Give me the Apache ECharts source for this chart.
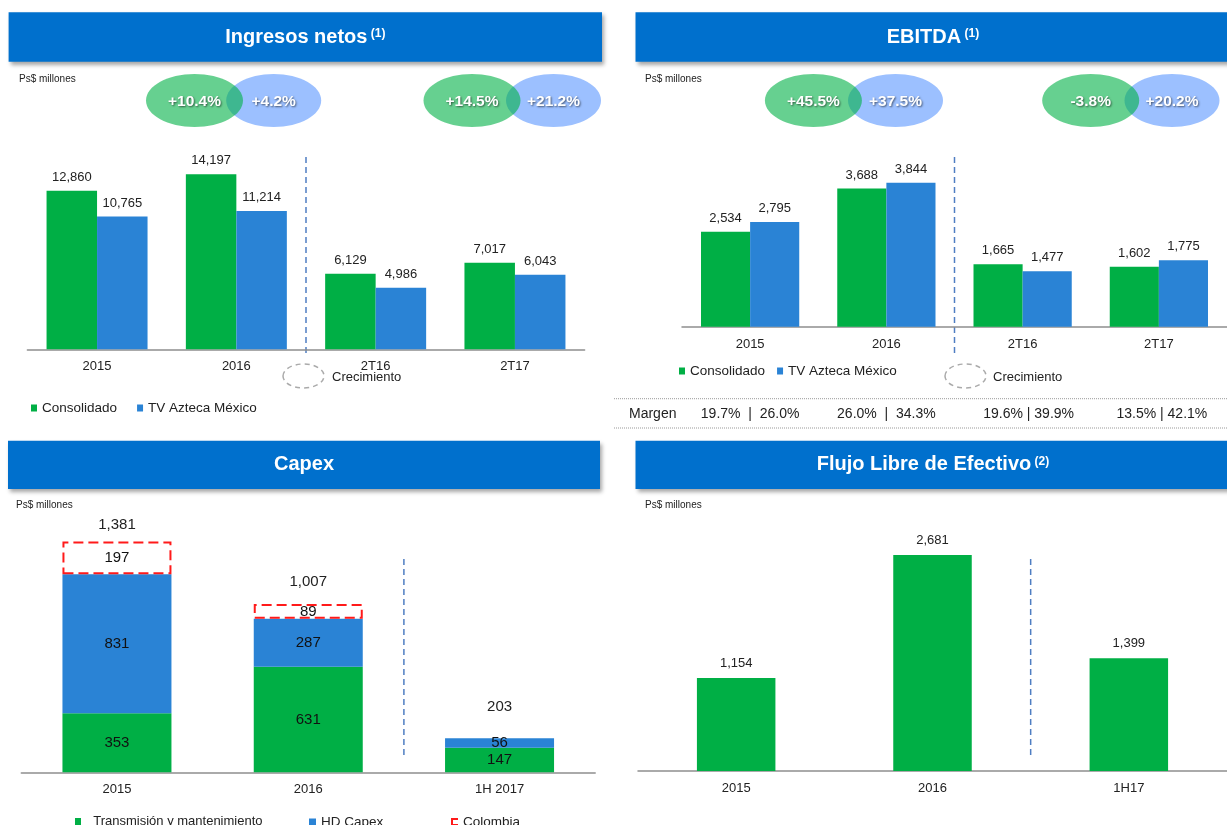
<!DOCTYPE html>
<html><head><meta charset="utf-8">
<script src="https://cdn.jsdelivr.net/npm/echarts@6/dist/echarts.min.js"></script>
<style>html,body{margin:0;padding:0;background:#fff}#c{width:1227px;height:825px}</style>
</head><body><div id="c"></div>
<script>
// ---- data ----
const catIngresos = ['2015', '2016', '2T16', '2T17'];
const ingresosConsolidado = [12860, 14197, 6129, 7017];
const ingresosTVA = [10765, 11214, 4986, 6043];
const growthIngresos = [['+10.4%', '+4.2%'], ['+14.5%', '+21.2%']];

const catEbitda = ['2015', '2016', '2T16', '2T17'];
const ebitdaConsolidado = [2534, 3688, 1665, 1602];
const ebitdaTVA = [2795, 3844, 1477, 1775];
const growthEbitda = [['+45.5%', '+37.5%'], ['-3.8%', '+20.2%']];
const margenLabels = ['19.7%  |  26.0%', '26.0%  |  34.3%', '19.6% | 39.9%', '13.5% | 42.1%'];

const catCapex = ['2015', '2016', '1H 2017'];
const capexTransmision = [353, 631, 147];
const capexHD = [831, 287, 56];
const capexColombia = [197, 89, null];
const capexTotal = [1381, 1007, 203];

const catFlujo = ['2015', '2016', '1H17'];
const flujo = [1154, 2681, 1399];

// ---- styles ----
const GREEN = '#00AF45', BLUE = '#2A83D5', HEAD = '#0070CD', TXT = '#222';
const FONT = '"Liberation Sans", Arial, sans-serif';
const fmt = v => (v == null ? '' : Number(v).toLocaleString('en-US'));

const chart = echarts.init(document.getElementById('c'), null, {renderer: 'canvas'});

function xAx(grid, data) {
  return {type: 'category', gridIndex: grid, data: data,
    axisLine: {lineStyle: {color: '#8f8f8f', width: 1.5}}, axisTick: {show: false},
    axisLabel: {color: TXT, fontSize: 13, margin: 11}};
}
function yAx(grid, max) {
  return {type: 'value', gridIndex: grid, min: 0, max: max, show: false, splitLine: {show: false}};
}
const topLabel = {show: true, position: 'top', distance: 7, color: TXT, fontSize: 13, formatter: p => fmt(p.value)};
const inLabel = {show: true, position: 'inside', color: '#111', fontSize: 15, formatter: p => fmt(p.value)};

const totalDist = [9.5, 15, 24];

const option = {
  animation: false,
  textStyle: {fontFamily: FONT},
  grid: [
    {left: 27.4, width: 557.2, top: 152, height: 197.3},
    {left: 682, width: 560, top: 139.4, height: 187.3},
    {left: 21.3, width: 573.9, top: 504.8, height: 267.5},
    {left: 638, width: 590, top: 529.3, height: 241.7}
  ],
  xAxis: [xAx(0, catIngresos), xAx(1, catEbitda), xAx(2, catCapex), xAx(3, catFlujo)],
  yAxis: [yAx(0, 16000), yAx(1, 5000), yAx(2, 1600), yAx(3, 3000)],
  legend: [
    {data: ['Consolidado', 'TV Azteca México'], left: 31, top: 401, padding: 0, icon: 'rect',
      itemWidth: 6, itemHeight: 7, itemGap: 20, selectedMode: false, textStyle: {fontSize: 13.5, color: TXT}},
    {data: ['Consolidado', 'TV Azteca México'], left: 679, top: 364, padding: 0, icon: 'rect',
      itemWidth: 6, itemHeight: 7, itemGap: 12, selectedMode: false, textStyle: {fontSize: 13.5, color: TXT}},
    {data: ['Transmisión y mantenimiento'], left: 75, top: 815, padding: 0, icon: 'rect', formatter: '  {name}',
      itemWidth: 6, itemHeight: 7, selectedMode: false, textStyle: {fontSize: 13, color: TXT}},
    {data: ['HD Capex'], left: 309, top: 815, padding: 0, icon: 'rect',
      itemWidth: 7, itemHeight: 7, selectedMode: false, textStyle: {fontSize: 13.5, color: TXT}},
    {data: [{name: 'Colombia', icon: 'path://M10,0L0,0L0,10L10,10',
      itemStyle: {color: 'rgba(0,0,0,0)', borderColor: '#FF1A1A', borderWidth: 2, borderType: 'solid'}}],
      left: 451, top: 815, padding: 0, itemWidth: 6, itemHeight: 8, selectedMode: false,
      textStyle: {fontSize: 13.5, color: TXT}}
  ],
  series: [
    {name: 'Consolidado', type: 'bar', xAxisIndex: 0, yAxisIndex: 0, data: ingresosConsolidado,
      barGap: '0%', barCategoryGap: '27.5%', itemStyle: {color: GREEN}, label: topLabel},
    {name: 'TV Azteca México', type: 'bar', xAxisIndex: 0, yAxisIndex: 0, data: ingresosTVA,
      barGap: '0%', barCategoryGap: '27.5%', itemStyle: {color: BLUE}, label: topLabel},
    {name: 'Consolidado', type: 'bar', xAxisIndex: 1, yAxisIndex: 1, data: ebitdaConsolidado,
      barGap: '0%', barCategoryGap: '27.9%', itemStyle: {color: GREEN}, label: topLabel},
    {name: 'TV Azteca México', type: 'bar', xAxisIndex: 1, yAxisIndex: 1, data: ebitdaTVA,
      barGap: '0%', barCategoryGap: '27.9%', itemStyle: {color: BLUE}, label: topLabel},
    {name: 'Transmisión y mantenimiento', type: 'bar', stack: 'capex', xAxisIndex: 2, yAxisIndex: 2,
      data: capexTransmision, barWidth: 109, barGap: '-100%', itemStyle: {color: GREEN}, label: inLabel},
    {name: 'HD Capex', type: 'bar', stack: 'capex', xAxisIndex: 2, yAxisIndex: 2,
      data: capexHD, barWidth: 109, barGap: '-100%', itemStyle: {color: BLUE}, label: inLabel},
    {name: 'Colombia', type: 'bar', stack: 'capex', xAxisIndex: 2, yAxisIndex: 2,
      data: capexColombia, barWidth: 109, barGap: '-100%',
      itemStyle: {color: '#fff', borderColor: '#FF1A1A', borderWidth: 2, borderType: [10, 5]}, label: inLabel},
    {name: 'Total', type: 'bar', xAxisIndex: 2, yAxisIndex: 2, barWidth: 109, barGap: '-100%', z: 1,
      itemStyle: {color: 'rgba(0,0,0,0)'},
      data: capexTotal.map((v, i) => ({value: v, label: {distance: totalDist[i]}})),
      label: {show: true, position: 'top', color: TXT, fontSize: 15, formatter: p => fmt(p.value)}},
    {name: 'Flujo', type: 'bar', xAxisIndex: 3, yAxisIndex: 3, data: flujo, barWidth: 78.5,
      itemStyle: {color: GREEN}, label: Object.assign({}, topLabel, {distance: 8})}
  ]
};
chart.setOption(option);

// ---- decorations ----
const g = [];
function header(x, y, w, h, title, sup, cx) {
  g.push({type: 'rect', shape: {x: x, y: y, width: w, height: h},
    style: {fill: HEAD, shadowBlur: 4, shadowOffsetX: 2, shadowOffsetY: 3, shadowColor: 'rgba(0,0,0,0.35)'}, z: 10});
  g.push({type: 'text', x: cx, y: y + h / 2, z: 11,
    style: {text: sup ? '{t|' + title + '} {s|' + sup + '}' : '{t|' + title + '}',
      align: 'center', verticalAlign: 'middle', fontFamily: FONT,
      rich: {t: {fontSize: 20, fontWeight: 'bold', fill: '#fff', fontFamily: FONT, lineHeight: 24, verticalAlign: 'middle'},
             s: {fontSize: 12, fontWeight: 'bold', fill: '#fff', fontFamily: FONT, lineHeight: 12, verticalAlign: 'middle', padding: [0, 0, 6, 0]}}}});
}
header(8.6, 12.3, 593.4, 49.4, 'Ingresos netos', '(1)', 305.3);
header(635.5, 12.3, 600, 49.4, 'EBITDA', '(1)', 933);
header(8, 440.7, 592, 48.3, 'Capex', null, 304);
header(635.5, 440.7, 600, 48.3, 'Flujo Libre de Efectivo', '(2)', 933);

[[19, 79], [645, 79], [16, 505], [645, 505]].forEach(p => g.push({type: 'text', x: p[0], y: p[1],
  style: {text: 'Ps$ millones', fontSize: 10, fill: TXT, fontFamily: FONT, verticalAlign: 'middle'}}));

function bubble(cg, cb, cy, txt) {
  g.push({type: 'ellipse', shape: {cx: cb, cy: cy, rx: 47.5, ry: 26.5}, style: {fill: '#9CC0FF'}, z: 5});
  g.push({type: 'ellipse', shape: {cx: cg, cy: cy, rx: 48.5, ry: 26.5}, style: {fill: 'rgba(0,176,70,0.6)'}, z: 6});
  [[cg, txt[0]], [cb, txt[1]]].forEach(p => g.push({type: 'text', x: p[0], y: cy + 1, z: 7,
    style: {text: p[1], align: 'center', verticalAlign: 'middle', fontSize: 15.5, fontWeight: 'bold', fill: '#fff',
      fontFamily: FONT, textShadowColor: 'rgba(0,0,0,0.55)', textShadowBlur: 2, textShadowOffsetX: 1, textShadowOffsetY: 1}}));
}
bubble(194.5, 273.7, 100.5, growthIngresos[0]);
bubble(472, 553.5, 100.5, growthIngresos[1]);
bubble(813.4, 895.5, 100.5, growthEbitda[0]);
bubble(1090.7, 1172, 100.5, growthEbitda[1]);

function crec(cx, tx) {
  g.push({type: 'ellipse', shape: {cx: cx, cy: 376, rx: 20.5, ry: 12}, style: {fill: 'none', stroke: '#aaa', lineWidth: 1.5, lineDash: [5, 4]}});
  g.push({type: 'text', x: tx, y: 377, style: {text: 'Crecimiento', fontSize: 13, fill: TXT, fontFamily: FONT, verticalAlign: 'middle'}});
}
crec(303.5, 332);
crec(965.5, 993);

function divider(xi, a, b, y1, y2) {
  const p1 = chart.convertToPixel({xAxisIndex: xi}, a);
  const p2 = chart.convertToPixel({xAxisIndex: xi}, b);
  const x = (p1 + p2) / 2;
  g.push({type: 'line', shape: {x1: x, y1: y1, x2: x, y2: y2}, style: {stroke: '#4F7EC2', lineWidth: 1.5, lineDash: [6, 4]}});
}
divider(0, '2016', '2T16', 157, 357);
divider(1, '2016', '2T16', 157, 356);
divider(2, '2016', '1H 2017', 559, 758);
divider(3, '2016', '1H17', 559, 758);

// Margen table
[398.7, 428].forEach(y => g.push({type: 'line', shape: {x1: 614, y1: y, x2: 1227, y2: y},
  style: {stroke: '#999', lineWidth: 1, lineDash: [1, 1]}}));
g.push({type: 'text', x: 629, y: 414, style: {text: 'Margen', fontSize: 14, fill: TXT, fontFamily: FONT, verticalAlign: 'middle'}});
const margenShift = [0, 0, 6, 3];
catEbitda.forEach((c, i) => {
  const x = chart.convertToPixel({xAxisIndex: 1}, c) + margenShift[i];
  g.push({type: 'text', x: x, y: 414, style: {text: margenLabels[i], align: 'center', verticalAlign: 'middle',
    fontSize: 14, fill: TXT, fontFamily: FONT}});
});

chart.setOption({graphic: g});
</script></body></html>
